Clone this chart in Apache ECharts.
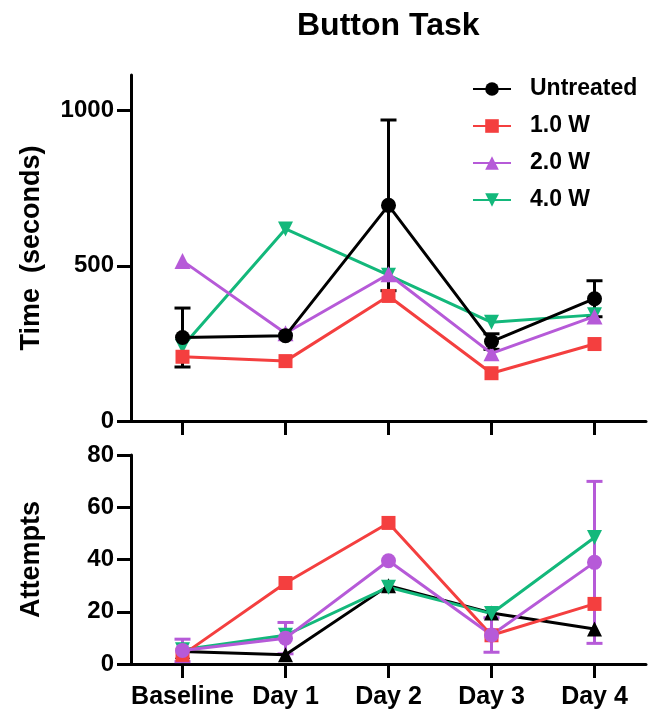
<!DOCTYPE html>
<html>
<head>
<meta charset="utf-8">
<script src="https://cdn.jsdelivr.net/npm/echarts@6/dist/echarts.min.js"></script>
<style>
  html, body { margin: 0; padding: 0; background: #fff; }
  #chart { width: 650px; height: 710px; }
</style>
</head>
<body>
<div id="chart"></div>
<script>
// categories
var days = ['Baseline', 'Day 1', 'Day 2', 'Day 3', 'Day 4'];

// top panel: time (seconds)
var timeUntreated = [269, 275, 695, 256, 394];
var timeUntreatedErr = [95, 0, 275, 25, 58];
var time1W = [207, 193, 403, 154, 248];
var time2W = [516, 283, 473, 218, 337];
var time4W = [240, 619, 470, 318, 342];
var timeTicks = [0, 500, 1000];

// bottom panel: attempts
var attUntreated = [4.8, 3.5, 30, 19.5, 13.4];
var att1W = [3.5, 31, 54, 11, 23];
var att2W = [5.2, 9.9, 39.5, 11.1, 38.9];
var att2WErr = [4.3, 6, 0, 6.6, 31];
var att4W = [5.5, 11, 29.4, 19.3, 48.4];

var names = ['Untreated', '1.0 W', '2.0 W', '4.0 W'];
var colors = {
  'Untreated': '#000000',
  '1.0 W': '#f43f3f',
  '2.0 W': '#b65ad8',
  '4.0 W': '#13b87b'
};

var font = 'Liberation Sans, Arial, sans-serif';

function errData(vals, errs) {
  var out = [];
  vals.forEach(function (v, i) {
    if (errs[i] > 0) out.push([i, v - errs[i], v + errs[i]]);
  });
  return out;
}

function errorBars(color) {
  return function (params, api) {
    var x = api.value(0);
    var lo = api.coord([x, api.value(1)]);
    var hi = api.coord([x, api.value(2)]);
    var w = 8;
    var style = { stroke: color, lineWidth: 3 };
    return {
      type: 'group',
      children: [
        { type: 'line', shape: { x1: hi[0], y1: hi[1], x2: lo[0], y2: lo[1] }, style: style },
        { type: 'line', shape: { x1: hi[0] - w, y1: hi[1], x2: hi[0] + w, y2: hi[1] }, style: style },
        { type: 'line', shape: { x1: lo[0] - w, y1: lo[1], x2: lo[0] + w, y2: lo[1] }, style: style }
      ]
    };
  };
}

function lineSeries(name, data, idx, symbol, size, rotate) {
  return {
    name: name,
    type: 'line',
    xAxisIndex: idx,
    yAxisIndex: idx,
    data: data,
    symbol: symbol,
    symbolSize: size,
    symbolRotate: rotate || 0,
    showAllSymbol: true,
    color: colors[name],
    lineStyle: { width: 3, color: colors[name] },
    itemStyle: { color: colors[name] }
  };
}

var axisLine = { show: true, lineStyle: { color: '#000', width: 3 } };
var axisTick = { show: true, length: 14, lineStyle: { color: '#000', width: 3 } };
var labelStyle = { color: '#000', fontWeight: 'bold', fontSize: 24, fontFamily: font };
var nameStyle = { color: '#000', fontWeight: 'bold', fontSize: 27, fontFamily: font };
var plain = function (v) { return String(v); };

var chart = echarts.init(document.getElementById('chart'));
chart.setOption({
  animation: false,
  backgroundColor: '#fff',
  title: {
    text: 'Button Task',
    left: 297,
    top: 10,
    padding: 0,
    textStyle: { color: '#000', fontWeight: 'bold', fontSize: 32, fontFamily: font }
  },
  legend: {
    data: names,
    orient: 'vertical',
    left: 472,
    top: 77,
    padding: 0,
    itemWidth: 38,
    itemHeight: 17,
    itemGap: 13,
    selectedMode: false,
    textStyle: { color: '#000', fontWeight: 'bold', fontSize: 23, fontFamily: font, lineHeight: 24, padding: [0, 0, 0, 14] }
  },
  grid: [
    { left: 131, top: 75, width: 515, height: 346 },
    { left: 131, top: 455, width: 515, height: 211 }
  ],
  xAxis: [
    {
      type: 'category', gridIndex: 0, data: days, boundaryGap: true,
      axisLine: axisLine,
      axisTick: Object.assign({ alignWithLabel: true }, axisTick),
      axisLabel: { show: false },
      splitLine: { show: false }
    },
    {
      type: 'category', gridIndex: 1, data: days, boundaryGap: true,
      axisLine: axisLine,
      axisTick: Object.assign({ alignWithLabel: true }, axisTick),
      axisLabel: Object.assign({}, labelStyle, { margin: 21, interval: 0, fontSize: 25 }),
      splitLine: { show: false }
    }
  ],
  yAxis: [
    {
      type: 'value', gridIndex: 0, min: 0, max: 1115,
      name: 'Time  (seconds)', nameLocation: 'middle', nameGap: 86,
      nameTextStyle: nameStyle,
      axisLine: axisLine,
      axisTick: Object.assign({ customValues: timeTicks }, axisTick),
      axisLabel: Object.assign({ margin: 17, customValues: timeTicks, formatter: plain }, labelStyle),
      splitLine: { show: false }
    },
    {
      type: 'value', gridIndex: 1, min: 0, max: 80, interval: 20,
      name: 'Attempts', nameLocation: 'middle', nameGap: 86,
      nameTextStyle: nameStyle,
      axisLine: axisLine,
      axisTick: axisTick,
      axisLabel: Object.assign({ margin: 17, formatter: plain }, labelStyle),
      splitLine: { show: false }
    }
  ],
  series: [
    // top panel, Untreated drawn last so it sits on top
    lineSeries('4.0 W', time4W, 0, 'triangle', 15, 180),
    lineSeries('2.0 W', time2W, 0, 'triangle', 16),
    lineSeries('1.0 W', time1W, 0, 'rect', 14),
    lineSeries('Untreated', timeUntreated, 0, 'circle', 15),
    {
      type: 'custom', xAxisIndex: 0, yAxisIndex: 0,
      renderItem: errorBars(colors['Untreated']),
      data: errData(timeUntreated, timeUntreatedErr), z: 3
    },
    // bottom panel
    lineSeries('Untreated', attUntreated, 1, 'triangle', 15),
    lineSeries('4.0 W', att4W, 1, 'triangle', 15, 180),
    lineSeries('1.0 W', att1W, 1, 'rect', 14),
    lineSeries('2.0 W', att2W, 1, 'circle', 15),
    {
      type: 'custom', xAxisIndex: 1, yAxisIndex: 1,
      renderItem: errorBars(colors['2.0 W']),
      data: errData(att2W, att2WErr), z: 3
    }
  ]
});
</script>
</body>
</html>
